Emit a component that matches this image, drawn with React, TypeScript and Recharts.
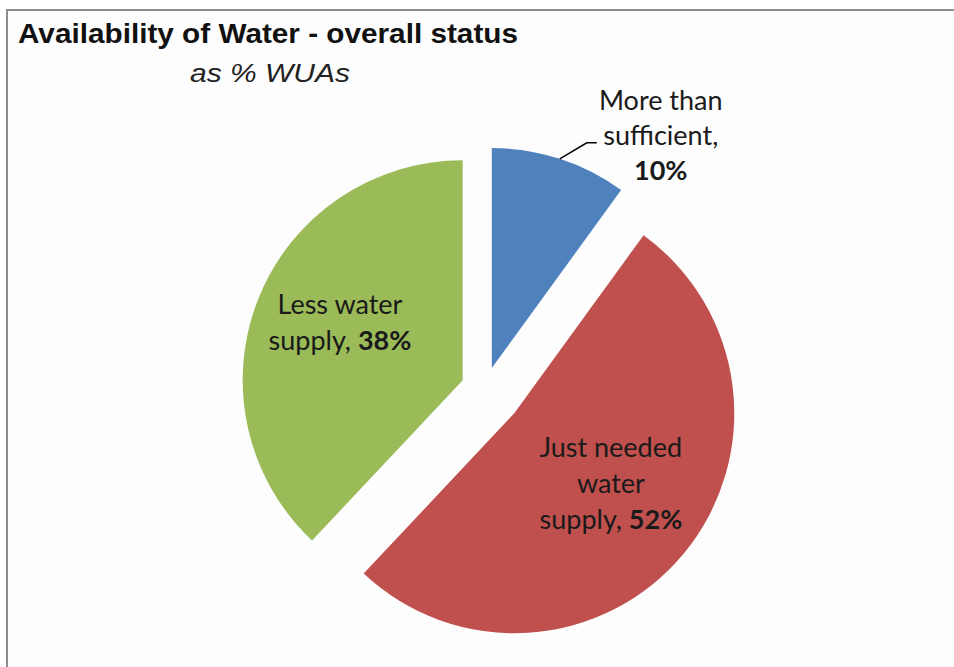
import React from 'react';
import { PieChart, Pie, Cell } from 'recharts';

// Share of water user associations (WUAs) by availability of water
const categories = ['More than sufficient', 'Just needed water supply', 'Less water supply'];
const shares = [10, 52, 38];
// Text lines drawn before the bold percentage; the last line carries the value
const labelLines = [
  ['More than', 'sufficient,', ''],
  ['Just needed', 'water', 'supply, '],
  ['Less water', 'supply, '],
];

const COLORS = ['#4F81BD', '#C0504D', '#9BBB59'];
const EXPLODE = [22, 38, 24];
const LABEL_FONT = 'Lato, "Noto Sans", sans-serif';
const RADIAN = Math.PI / 180;

const data = categories.map((name, i) => ({ name, value: shares[i] }));
const total = shares.reduce((a, b) => a + b, 0);

// mid angle of each slice in Recharts' convention (counter-clockwise from 3 o'clock)
const midAngles = shares.map((v, i) => {
  const before = shares.slice(0, i).reduce((a, b) => a + b, 0);
  return 90 - (360 * (before + v / 2)) / total;
});

const explodeShift = (i: number) => {
  const a = midAngles[i] * RADIAN;
  return { dx: EXPLODE[i] * Math.cos(a), dy: -EXPLODE[i] * Math.sin(a) };
};

const renderLabel = (props: any) => {
  const { cx, cy, midAngle, outerRadius, index, value } = props;
  const a = midAngle * RADIAN;
  const cos = Math.cos(a);
  const sin = -Math.sin(a);
  const { dx, dy } = explodeShift(index);
  const lines = labelLines[index];
  const pct = `${value}%`;

  if (index === 0) {
    // outside label with a leader line
    const sx = cx + dx + outerRadius * cos;
    const sy = cy + dy + outerRadius * sin;
    const mx = sx + 27;
    const my = sy - 16;
    const ex = mx + 10;
    const tx = ex + 64;
    return (
      <g>
        <polyline points={`${sx},${sy} ${mx},${my} ${ex},${my}`} fill="none" stroke="#000" strokeWidth={1.5} />
        <text x={tx} y={my - 33} textAnchor="middle" fontFamily={LABEL_FONT} fontSize={27} fill="#1a1a1a">{lines[0]}</text>
        <text x={tx} y={my + 2} textAnchor="middle" fontFamily={LABEL_FONT} fontSize={27} fill="#1a1a1a">{lines[1]}</text>
        <text x={tx} y={my + 37} textAnchor="middle" fontFamily={LABEL_FONT} fontSize={27} fontWeight="bold" fill="#1a1a1a">{pct}</text>
      </g>
    );
  }

  const frac = index === 1 ? 0.57 : 0.6;
  const px = cx + dx + frac * outerRadius * cos;
  const py = cy + dy + frac * outerRadius * sin;
  const step = 36;
  const n = lines.length;
  const firstBaseline = py - ((n - 1) * step) / 2;
  return (
    <g>
      {lines.map((ln, k) => (
        <text key={k} x={px} y={firstBaseline + k * step} textAnchor="middle" fontFamily={LABEL_FONT} fontSize={27} fill="#1a1a1a">
          {ln}
          {k === n - 1 ? <tspan fontWeight="bold">{pct}</tspan> : null}
        </text>
      ))}
    </g>
  );
};

export default function App() {
  return (
    <div style={{ position: 'absolute', left: 0, top: 0, width: 954, height: 667, background: '#ffffff' }}>
      <PieChart width={954} height={667} margin={{ top: 0, right: 0, bottom: 0, left: 0 }}>
        <rect x={7} y={10} width={960} height={680} fill="#fdfdfd" stroke="#8c8c8c" strokeWidth={2} />
        <text x={18} y={43} fontFamily='"Liberation Sans", Arial, sans-serif' fontWeight="bold" fontSize={28} textLength={500} lengthAdjust="spacingAndGlyphs" fill="#111">
          Availability of Water - overall status
        </text>
        <text x={190} y={82} fontFamily='"Liberation Sans", Arial, sans-serif' fontStyle="italic" fontSize={26} textLength={160} lengthAdjust="spacingAndGlyphs" fill="#222">
          as % WUAs
        </text>
        <Pie
          data={data}
          dataKey="value"
          nameKey="name"
          cx={485}
          cy={389}
          outerRadius={220}
          startAngle={90}
          endAngle={-270}
          stroke="none"
          isAnimationActive={false}
          label={renderLabel}
          labelLine={false}
        >
          {data.map((d, i) => {
            const { dx, dy } = explodeShift(i);
            return <Cell key={d.name} fill={COLORS[i]} transform={`translate(${dx},${dy})`} />;
          })}
        </Pie>
      </PieChart>
    </div>
  );
}
